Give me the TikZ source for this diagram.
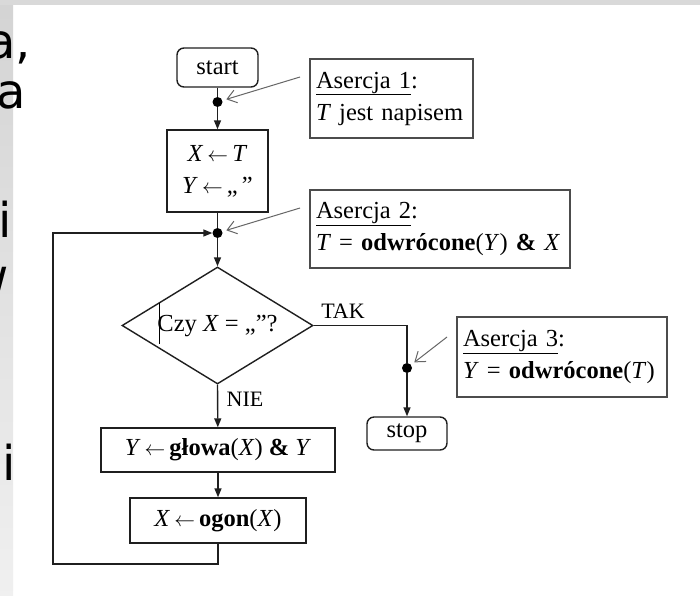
\documentclass[tikz,border=0pt]{standalone}
\usepackage{fontspec}
\setmainfont{Liberation Serif}
\newfontfamily\slidefont{DejaVu Sans}
\usetikzlibrary{arrows.meta,shapes.geometric}
\newcommand\chartfont{\fontsize{24.5}{32}\selectfont}
\newcommand\getsarrow{\,{\fontsize{20.74}{20}\selectfont$\leftarrow$}\,}
\begin{document}
\begin{tikzpicture}[x=1pt,y=-1pt,
  ink/.style={draw=black!88, line width=1.4pt},
  proc/.style={ink, rectangle, inner sep=0pt, align=center, font=\chartfont},
  term/.style={proc, rounded corners=7pt},
  decision/.style={ink, diamond, aspect=1.63, minimum width=191pt,
    minimum height=117pt, inner sep=0pt, font=\chartfont},
  note/.style={draw=black!70, line width=1.4pt, inner xsep=6pt, inner ysep=0pt,
    align=left, font=\chartfont},
  dotn/.style={circle, fill=black, inner sep=0pt, minimum size=10pt},
  lbl/.style={inner sep=0pt, font=\fontsize{22}{26}\selectfont},
  flow/.style={ink},
  flowarr/.style={ink, -{Triangle[length=9pt,width=7pt]}},
  pointer/.style={draw=black!60, line width=1pt,
    -{Straight Barb[length=9pt,width=13pt]}, shorten >=4pt},
  slidetxt/.style={inner sep=0pt, text=black,
    font=\slidefont\fontsize{48}{58}\selectfont}
]
\useasboundingbox (0,0) rectangle (700,595);
% slide background
\fill[white] (0,0) rectangle (700,595);
\shade[top color=gray!34, bottom color=gray!12] (0,0) rectangle (13,595);
\fill[gray!30] (0,0) rectangle (700,5);

% fragments of the slide text at the left edge
\node[slidetxt, anchor=base east] (s1) at (31,58) {a,};
\node[slidetxt, anchor=base east] (s2) at (26,108) {a};
\node[slidetxt, anchor=base west] (s3) at (-1.5,237) {i};
\node[slidetxt, anchor=base east] (s4) at (9,293) {w};
\node[slidetxt, anchor=base west] (s5) at (2.5,480) {i};

% flowchart
\node[term, minimum width=81pt, minimum height=39pt] (start) at (217.5,67.5) {start};
\node[dotn] (d1) at (217.5,102) {};
\node[proc, minimum width=101pt, minimum height=82pt] (init) at (217.5,171)
  {\textit{X}\getsarrow\textit{T}\\\textit{Y}\getsarrow„\,”};
\node[dotn] (d2) at (217.5,233) {};
\node[decision] (dec) at (217.5,325.5) {Czy \textit{X} = „”?};
\node[dotn] (d3) at (407,368) {};
\node[term, minimum width=80pt, minimum height=33pt] (stop) at (407,433.5) {stop};
\node[proc, minimum width=234pt, minimum height=44pt] (head) at (218,450)
  {\textit{Y}\getsarrow\textbf{głowa}(\textit{X}) \textbf{\&} \textit{Y}};
\node[proc, minimum width=176pt, minimum height=45pt] (tail) at (218,520.5)
  {\textit{X}\getsarrow\textbf{ogon}(\textit{X})};

\node[lbl] (tak) at (343,311) {TAK};
\node[lbl] (nie) at (245,399) {NIE};

% assertions
\node[note, minimum height=79pt, text width=151pt] (a1) at (391.5,98.5)
  {\underline{Asercja 1}:\\\textit{T} jest napisem};
\node[note, minimum height=78pt, text width=248pt] (a2) at (440,229)
  {\underline{Asercja 2}:\\\textit{T} = \textbf{odwrócone}(\textit{Y}) \textbf{\&} \textit{X}};
\node[note, minimum height=80pt, text width=198pt] (a3) at (562,357)
  {\underline{Asercja 3}:\\\textit{Y} = \textbf{odwrócone}(\textit{T})};

% text cursor left in the decision box
\draw[line width=0.8pt] (159,303) -- (159,344);

% connectors
\draw[flow] (start) -- (d1);
\draw[flowarr] (d1) -- (init);
\draw[flow] (init) -- (d2);
\draw[flowarr] (d2) -- (dec);
\coordinate (tk) at (407,325.5);
\draw[flow] (dec.east) -- (tk) -- (d3);
\draw[flowarr] (d3) -- (stop);
\draw[flowarr] (dec.south) -- (head);
\draw[flowarr] (head) -- (tail);
\coordinate (lb) at (218,564);
\coordinate (lc) at (53,564);
\coordinate (lt) at (53,233);
\draw[flowarr] (tail.south) -- (lb) -- (lc) -- (lt) -- (d2.west);

% pointers from the assertions
\coordinate (p1) at (300,77);
\coordinate (p2) at (300,208);
\coordinate (p3) at (447,337);
\draw[pointer] (p1) -- (d1);
\draw[pointer] (p2) -- (d2);
\draw[pointer] (p3) -- (d3);
\end{tikzpicture}
\end{document}
